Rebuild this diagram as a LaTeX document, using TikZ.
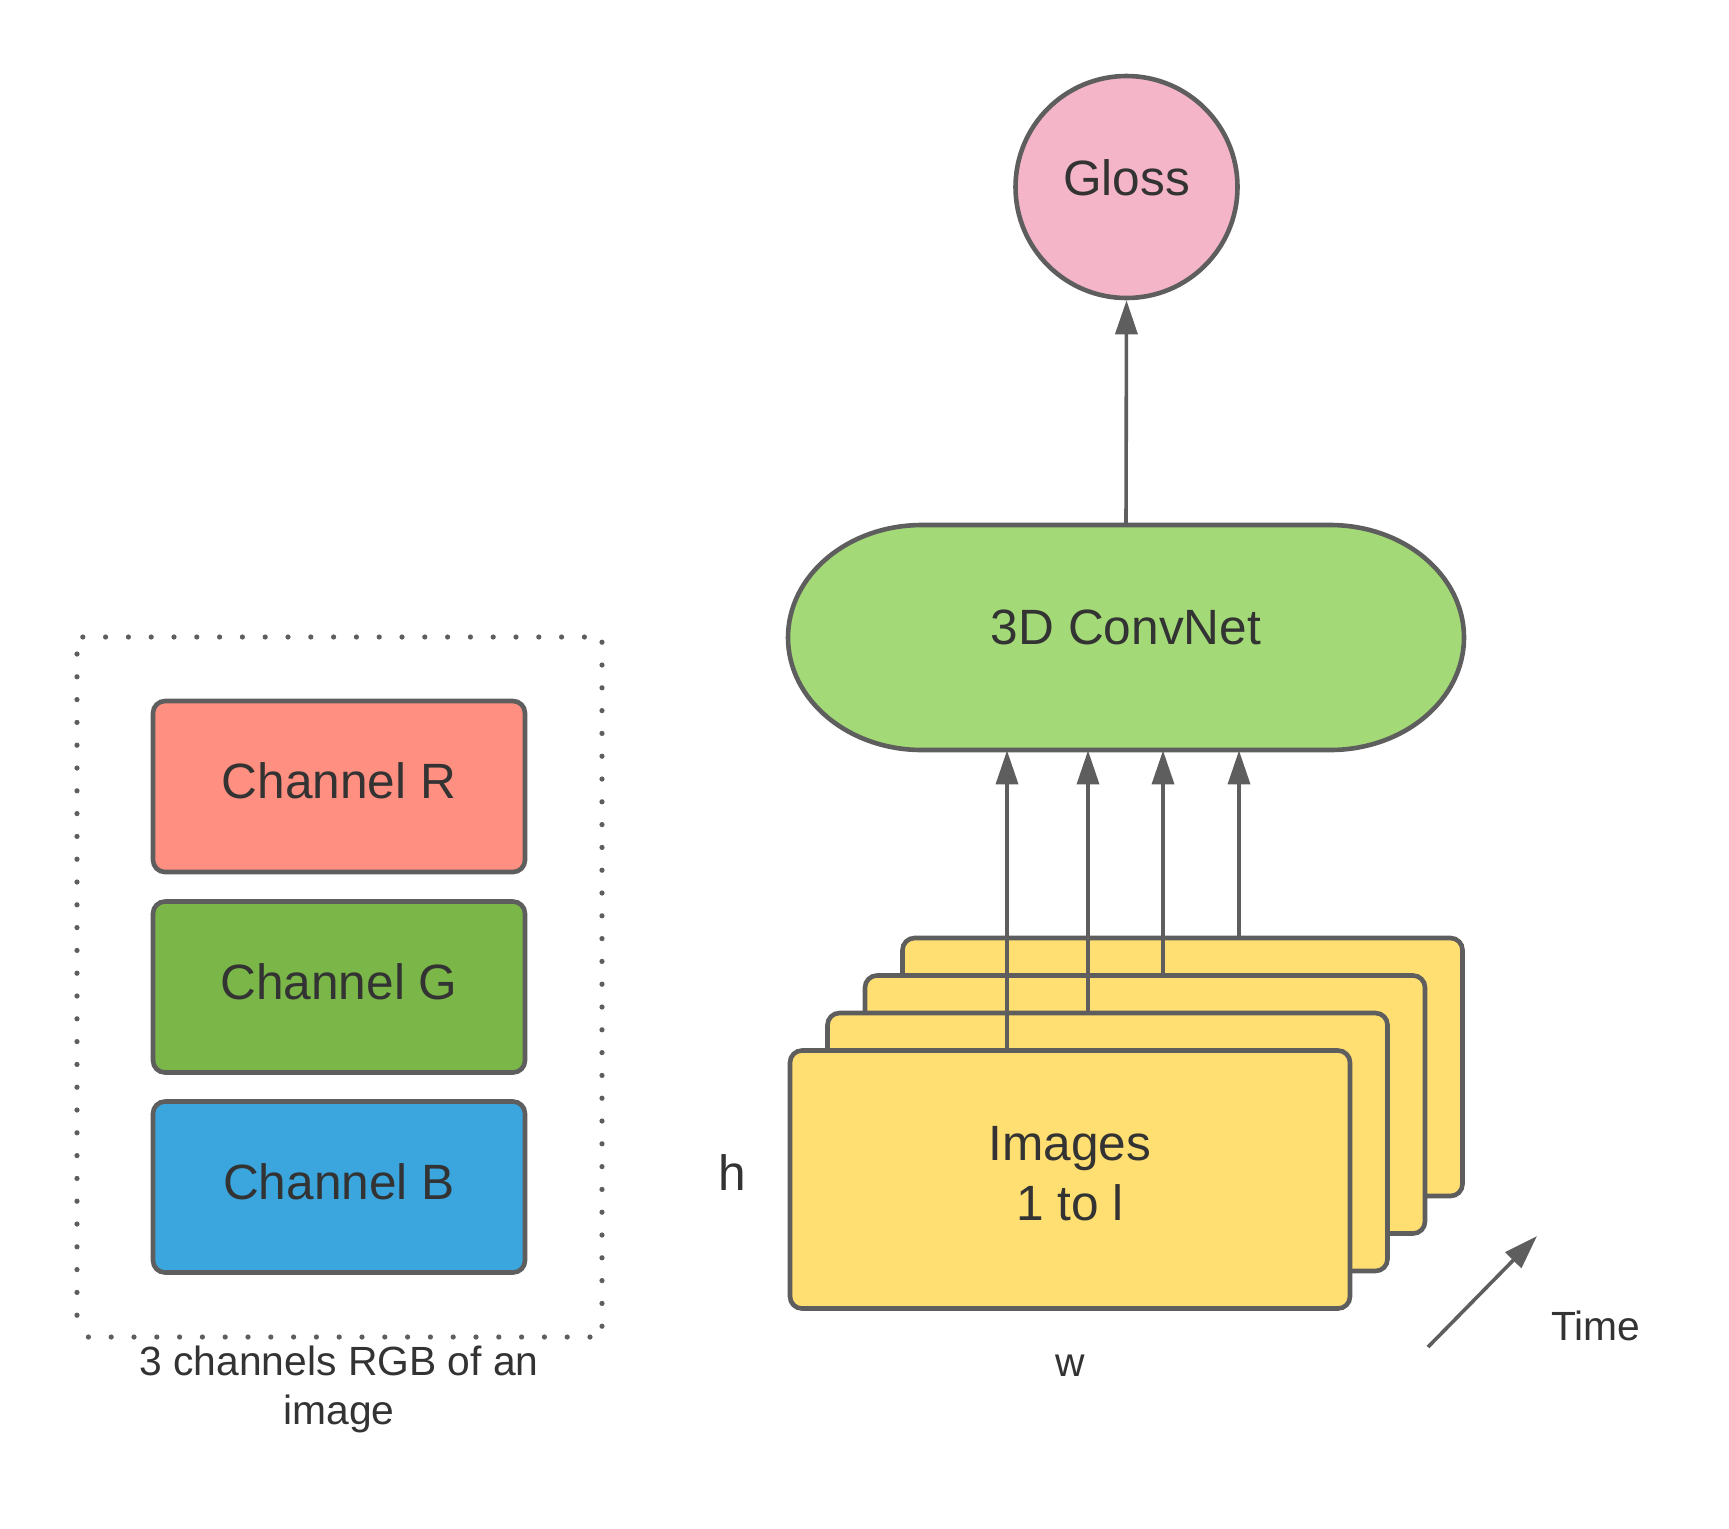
\documentclass[tikz,border=0pt]{standalone}
\usepackage{fontspec}
\setmainfont{Liberation Sans}
\usetikzlibrary{arrows.meta}
\definecolor{ln}{HTML}{5E5E5E}
\definecolor{tx}{HTML}{333333}
\definecolor{cr}{HTML}{FF8F80}
\definecolor{cg}{HTML}{7AB648}
\definecolor{cb}{HTML}{3AA6DD}
\definecolor{pk}{HTML}{F4B5C8}
\definecolor{lg}{HTML}{A3D977}
\definecolor{yl}{HTML}{FFDF71}
\newcommand\liftby[2]{\raisebox{#1}[\height][\depth]{#2}}
\begin{document}
\begin{tikzpicture}[x=0.5pt,y=-0.5pt,
  big/.style={text=tx, font=\fontsize{24.8}{30}\selectfont},
  small/.style={text=tx, font=\fontsize{20.4}{24.5}\selectfont, align=center},
  chbox/.style={big, draw=ln, line width=2.3pt, rounded corners=6pt, minimum width=186pt, minimum height=85.5pt},
  frame/.style={draw=ln, line width=2.3pt, rounded corners=6pt, fill=yl, minimum width=280pt, minimum height=129pt},
  arr/.style={draw=ln, line width=1.8pt, -{Triangle[length=17pt,width=11pt]}},
  dotbox/.style={draw=ln, line width=2.6pt, line cap=round, dash pattern=on 0pt off 11.4pt, dash phase=5.7pt, minimum width=262.5pt, minimum height=350pt},
]
\path[use as bounding box] (0,0) rectangle (1729,1528);

% RGB channels
\node[dotbox] (rgb) at (339.5,987) {};
\node[chbox, fill=cr] (chr) at (339,786.5) {\liftby{2.75pt}{Channel R}};
\node[chbox, fill=cg] (chg) at (339,987) {\liftby{2.75pt}{Channel G}};
\node[chbox, fill=cb] (chb) at (339,1187) {\liftby{2.75pt}{Channel B}};
\node[small] (cap) at (339,1389) {3 channels RGB of an\\image};

% ConvNet stadium
\draw[draw=ln, line width=2.3pt, fill=lg] (922,525) -- (1330,525)
  arc[start angle=90, end angle=-90, x radius=67pt, y radius=56.25pt] -- (922,750)
  arc[start angle=270, end angle=90, x radius=67pt, y radius=56.25pt] -- cycle;
\node[big, minimum width=338pt, minimum height=112.5pt, inner sep=0pt] (conv) at (1126,637.5) {\liftby{5pt}{3D ConvNet}};

% Gloss
\node[big, circle, draw=ln, line width=2.3pt, fill=pk, minimum size=111pt] (gloss) at (1126.5,187) {\liftby{4.4pt}{Gloss}};

% image frames
\node[frame] (img4) at (1182.5,1067) {};
\node[frame] (img3) at (1145,1104.5) {};
\node[frame] (img2) at (1107.5,1142) {};
\node[frame] (img1) at (1070,1179.5) {};
\node[big, align=center] (imgtxt) at (1070,1174) {Images\\1 to l};

\node[big] (h) at (732,1173) {h};
\node[small] (w) at (1070,1366) {w};
\node[small] (time) at (1596,1326) {Time};

% arrows
\coordinate (c1) at (1007,0);
\coordinate (c2) at (1088,0);
\coordinate (c3) at (1163,0);
\coordinate (c4) at (1239,0);
\draw[arr] (c1 |- img1.north) -- (c1 |- conv.south);
\draw[arr] (c2 |- img2.north) -- (c2 |- conv.south);
\draw[arr] (c3 |- img3.north) -- (c3 |- conv.south);
\draw[arr] (c4 |- img4.north) -- (c4 |- conv.south);
\draw[arr] (conv.north) -- (gloss.south);

\coordinate (t0) at (1428,1347);
\coordinate (t1) at (1537,1236);
\draw[arr] (t0) -- (t1);
\end{tikzpicture}
\end{document}
